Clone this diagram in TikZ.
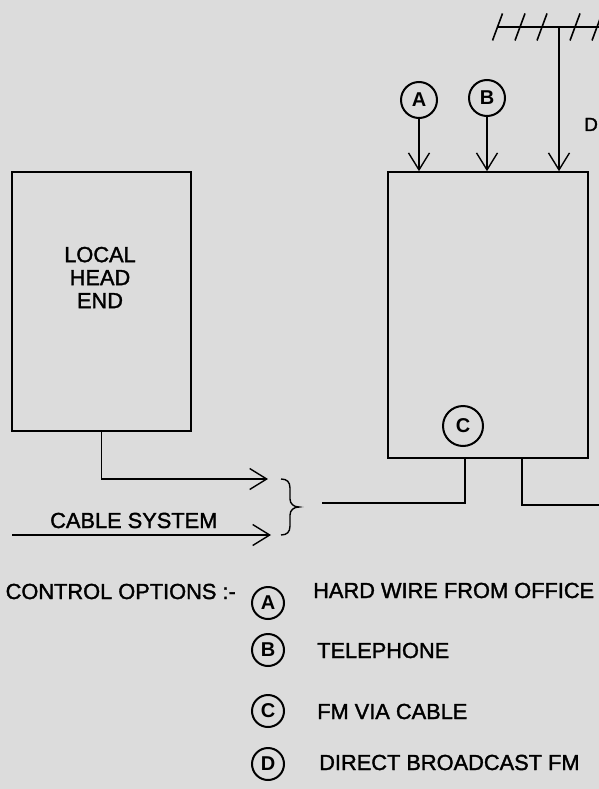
\documentclass[tikz,border=0pt]{standalone}
\usepackage{fontspec}
\setmainfont{Liberation Sans}
\newfontfamily\medfont{Liberation Sans}[FakeBold=1.6]
\usetikzlibrary{arrows.meta}
\definecolor{bgc}{RGB}{220,220,220}
\newcommand\txtfont{\medfont\fontsize{21.8}{23}\selectfont}
\newcommand\circfont{\fontsize{20}{20}\selectfont\bfseries}
\tikzset{
  box/.style={draw, line width=1.6pt, inner sep=0pt},
  wire/.style={line width=1.4pt},
  arr/.style={wire, -{Straight Barb[length=17pt,width=21pt,line width=1.4pt]}},
  opt/.style={draw, circle, line width=2pt, inner sep=0pt, minimum size=#1, font=\circfont},
  lbl/.style={font=\txtfont, inner sep=0pt}
}
\begin{document}
\begin{tikzpicture}[x=1pt,y=-1pt]
\fill[bgc] (0,0) rectangle (599,789);
\useasboundingbox (0,0) rectangle (599,789);

% left box
\node[box, minimum width=179pt, minimum height=259pt] (lhe) at (101.5,301.5) {};
\node[lbl, align=center] (lhetxt) at (100,277.5) {LOCAL\\HEAD\\END};

% right box
\node[box, minimum width=200pt, minimum height=286pt] (rx) at (488,315) {};
\node[opt=40pt] (cc) at (463,426) {C};

% top inputs
\node[opt=36pt] (ca) at (419,100) {A};
\node[opt=36pt] (cb) at (487,98) {B};
\draw[arr] (ca) -- (ca |- rx.north);
\draw[arr] (cb) -- (cb |- rx.north);

% antenna
\coordinate (ant) at (559,27);
\draw[wire] (497,27) -- (599,27);
\foreach \x in {497.5,520,542,575,597}
  \draw[wire, line width=1.6pt] (\x-5,40.5) -- (\x+5,13.5);
\draw[arr] (ant) -- (ant |- rx.north);
\node[font=\medfont\fontsize{19}{19}\selectfont, inner sep=0pt, anchor=base west] (dl) at (584,131) {D};

% left box output and cable system
\coordinate (t1) at (268,479);
\draw[arr] (lhe.south) |- (t1);
\coordinate (cs0) at (12,535);
\coordinate (t2) at (271,535);
\draw[arr] (cs0) -- (t2);
\node[lbl, anchor=base west] (cstxt) at (50,528) {CABLE SYSTEM};

% brace
\draw[wire] (281,479) .. controls (287,479) and (290,482) .. (290,488) -- (290,499)
  .. controls (290,504) and (294,507) .. (299,507)
  .. controls (294,507) and (290,510) .. (290,515) -- (290,526)
  .. controls (290,532) and (287,535) .. (281,535);

% right box outputs
\coordinate (j1) at (465,503);
\coordinate (f1) at (322,503);
\draw[wire] (rx.south -| j1) -- (j1) -- (f1);
\coordinate (j2) at (522,505);
\coordinate (f2) at (599,505);
\draw[wire] (rx.south -| j2) -- (j2) -- (f2);

% legend
\node[lbl, anchor=base east] (ctl) at (236,599) {CONTROL OPTIONS :-};
\node[opt=32pt] (la) at (268,603) {A};
\node[opt=32pt] (lb) at (268,650) {B};
\node[opt=32pt] (lc) at (268,711) {C};
\node[opt=32pt] (ld) at (268,764) {D};
\node[lbl, anchor=base west] (ta) at (313,598) {HARD WIRE FROM OFFICE};
\node[lbl, anchor=base west] (tb) at (317,658) {TELEPHONE};
\node[lbl, anchor=base west] (tc) at (317,719) {FM VIA CABLE};
\node[lbl, anchor=base west] (td) at (319,770) {DIRECT BROADCAST FM};
\end{tikzpicture}
\end{document}
